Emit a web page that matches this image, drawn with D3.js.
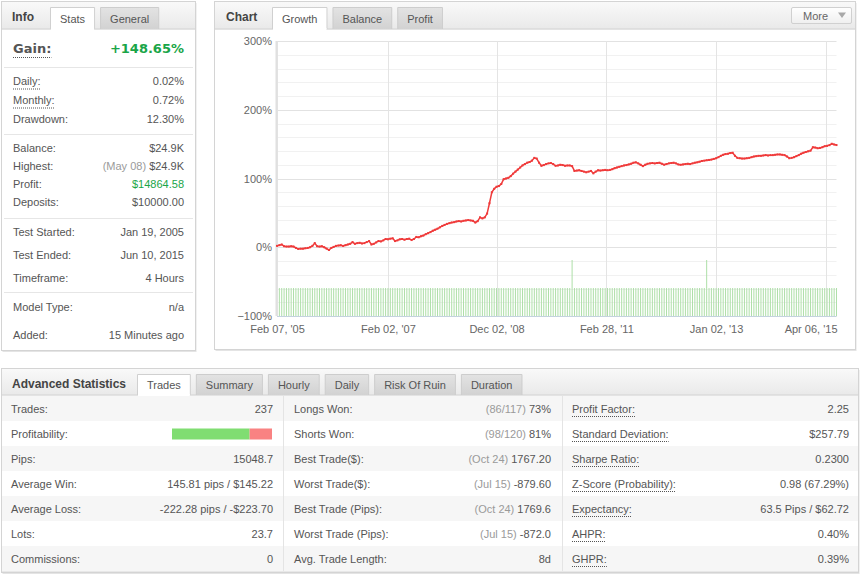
<!DOCTYPE html>
<html>
<head>
<meta charset="utf-8">
<script src="https://cdn.jsdelivr.net/npm/d3@7"></script>
<style>
  body { margin: 0; background: #fff; }
  svg { display: block; }
  svg text { font-family: "Liberation Sans", Arial, sans-serif; font-size: 11px; fill: #555; }
</style>
</head>
<body>
<div id="page"></div>
<script>
// ---- data ----

// growth in % after each trade (index 0 = start, 237 = last trade)
const growthValues = [
  2, 3, 4, 1.5, 1, 1, 1.5, 1, -1, -2.5,
  -2, -2, -1.5, -1, 0, 2, 6, 1.5, 1, 1.5,
  0, -2, -4, -1, 0.5, 2, 2.5, 3, 2, 3,
  4, 5, 7.5, 5, 6, 6.5, 5.5, 6, 7.5, 9,
  4, 5, 7, 9, 8.5, 10, 12, 11.5, 12.5, 13,
  9, 10, 11.5, 12, 11, 12, 12.5, 10.5, 12, 15,
  14.5, 16, 17, 19, 20.5, 22, 24, 25.5, 27, 29,
  31, 32.5, 34, 35, 36, 36.5, 37.5, 38, 37.5, 38.5,
  39, 39.5, 39, 38.5, 36, 38, 43.5, 42, 43.5, 49,
  64, 80, 85, 88, 89, 92, 99, 100, 101, 103.5,
  107, 110, 113, 116, 119, 121, 123, 124, 126, 130,
  129, 123, 118.5, 119.5, 121, 122, 122.5, 121, 118.5, 119,
  120, 119.5, 118.5, 119, 119, 118, 111, 111.5, 112, 111,
  110, 109, 110, 111, 107.5, 110, 112, 111.5, 112, 112.5,
  112, 112.5, 113.5, 115, 116, 117, 118, 119, 119.5, 120.5,
  121.5, 123, 123.5, 122, 120, 118, 120, 121.5, 122, 122.5,
  122, 122.5, 123, 121.5, 120, 121, 122, 122.5, 123, 122,
  120.5, 120, 120.5, 121, 121.5, 121, 122, 123, 123.5, 124.5,
  125.5, 126, 126.5, 127, 127.5, 128.5, 129.5, 131, 133, 134.5,
  135.5, 136, 137, 137.5, 133, 130, 129.5, 129, 129, 129.5,
  130, 131, 132, 132.5, 133, 133, 133.5, 134, 133.5, 134,
  134, 134.5, 135, 135, 134.5, 134, 132, 129.5, 130, 131,
  132.5, 134, 136, 137.5, 138.5, 139.5, 140.5, 145.5, 145, 144,
  144.5, 145.5, 147, 147.5, 148.5, 150.5, 149.5, 148.65
];

// volume bar per trade (two trades show a double bar)
const tradeVolume = [
  0.1, 0.1, 0.1, 0.1, 0.1, 0.1, 0.1, 0.1, 0.1, 0.1,
  0.1, 0.1, 0.1, 0.1, 0.1, 0.1, 0.1, 0.1, 0.1, 0.1,
  0.1, 0.1, 0.1, 0.1, 0.1, 0.1, 0.1, 0.1, 0.1, 0.1,
  0.1, 0.1, 0.1, 0.1, 0.1, 0.1, 0.1, 0.1, 0.1, 0.1,
  0.1, 0.1, 0.1, 0.1, 0.1, 0.1, 0.1, 0.1, 0.1, 0.1,
  0.1, 0.1, 0.1, 0.1, 0.1, 0.1, 0.1, 0.1, 0.1, 0.1,
  0.1, 0.1, 0.1, 0.1, 0.1, 0.1, 0.1, 0.1, 0.1, 0.1,
  0.1, 0.1, 0.1, 0.1, 0.1, 0.1, 0.1, 0.1, 0.1, 0.1,
  0.1, 0.1, 0.1, 0.1, 0.1, 0.1, 0.1, 0.1, 0.1, 0.1,
  0.1, 0.1, 0.1, 0.1, 0.1, 0.1, 0.1, 0.1, 0.1, 0.1,
  0.1, 0.1, 0.1, 0.1, 0.1, 0.1, 0.1, 0.1, 0.1, 0.1,
  0.1, 0.1, 0.1, 0.1, 0.1, 0.1, 0.1, 0.1, 0.1, 0.1,
  0.1, 0.1, 0.1, 0.1, 0.2, 0.1, 0.1, 0.1, 0.1, 0.1,
  0.1, 0.1, 0.1, 0.1, 0.1, 0.1, 0.1, 0.1, 0.1, 0.1,
  0.1, 0.1, 0.1, 0.1, 0.1, 0.1, 0.1, 0.1, 0.1, 0.1,
  0.1, 0.1, 0.1, 0.1, 0.1, 0.1, 0.1, 0.1, 0.1, 0.1,
  0.1, 0.1, 0.1, 0.1, 0.1, 0.1, 0.1, 0.1, 0.1, 0.1,
  0.1, 0.1, 0.1, 0.1, 0.1, 0.1, 0.1, 0.1, 0.1, 0.1,
  0.1, 0.2, 0.1, 0.1, 0.1, 0.1, 0.1, 0.1, 0.1, 0.1,
  0.1, 0.1, 0.1, 0.1, 0.1, 0.1, 0.1, 0.1, 0.1, 0.1,
  0.1, 0.1, 0.1, 0.1, 0.1, 0.1, 0.1, 0.1, 0.1, 0.1,
  0.1, 0.1, 0.1, 0.1, 0.1, 0.1, 0.1, 0.1, 0.1, 0.1,
  0.1, 0.1, 0.1, 0.1, 0.1, 0.1, 0.1, 0.1, 0.1, 0.1,
  0.1, 0.1, 0.1, 0.1, 0.1, 0.1, 0.1
];

const xTickIndex = [0, 47, 93, 139.5, 186, 232.5];
const xTickLabels = ["Feb 07, '05", "Feb 02, '07", "Dec 02, '08", "Feb 28, '11", "Jan 02, '13", "Apr 06, '15"];
const yTicks = [-100, 0, 100, 200, 300];

const gainLabel = "Gain:";
const gainValue = "+148.65%";

// [label, value, grey prefix]
const infoGroups = [
  [["Daily:", "0.02%"], ["Monthly:", "0.72%"], ["Drawdown:", "12.30%"]],
  [["Balance:", "$24.9K"], ["Highest:", "$24.9K", "(May 08)"], ["Profit:", "$14864.58"], ["Deposits:", "$10000.00"]],
  [["Test Started:", "Jan 19, 2005"], ["Test Ended:", "Jun 10, 2015"], ["Timeframe:", "4 Hours"]],
  [["Model Type:", "n/a"], ["Added:", "15 Minutes ago"]]
];

const infoTabs = ["Stats", "General"];
const chartTabs = ["Growth", "Balance", "Profit"];
const statTabs = ["Trades", "Summary", "Hourly", "Daily", "Risk Of Ruin", "Duration"];

const tradesColumn = [
  ["Trades:", "237"], ["Profitability:", null], ["Pips:", "15048.7"],
  ["Average Win:", "145.81 pips / $145.22"], ["Average Loss:", "-222.28 pips / -$223.70"],
  ["Lots:", "23.7"], ["Commissions:", "0"]
];
const wonColumn = [
  ["Longs Won:", "73%", "(86/117)"], ["Shorts Won:", "81%", "(98/120)"],
  ["Best Trade($):", "1767.20", "(Oct 24)"], ["Worst Trade($):", "-879.60", "(Jul 15)"],
  ["Best Trade (Pips):", "1769.6", "(Oct 24)"], ["Worst Trade (Pips):", "-872.0", "(Jul 15)"],
  ["Avg. Trade Length:", "8d"]
];
const ratioColumn = [
  ["Profit Factor:", "2.25"], ["Standard Deviation:", "$257.79"], ["Sharpe Ratio:", "0.2300"],
  ["Z-Score (Probability):", "0.98 (67.29%)"], ["Expectancy:", "63.5 Pips / $62.72"],
  ["AHPR:", "0.40%"], ["GHPR:", "0.39%"]
];
const profitability = [184, 53]; // won, lost

// ---- drawing ----
const svg = d3.select("#page").append("svg")
    .attr("width", 863)
    .attr("height", 574);

const defs = svg.append("defs");
function vGrad(id, c0, c1) {
    const g = defs.append("linearGradient").attr("id", id)
        .attr("x1", 0).attr("y1", 0).attr("x2", 0).attr("y2", 1);
    g.append("stop").attr("offset", 0).attr("stop-color", c0);
    g.append("stop").attr("offset", 1).attr("stop-color", c1);
}
vGrad("hdr", "#f9f9f9", "#e9e9e9");
vGrad("tabOff", "#e3e3e3", "#d2d2d2");
vGrad("btn", "#ffffff", "#efefef");

function panel(x, y, w, h, headH) {
    svg.append("rect").attr("x", x + 1).attr("y", y + 1.5).attr("width", w).attr("height", h)
        .attr("fill", "#e4e4e4");
    svg.append("rect").attr("x", x).attr("y", y).attr("width", w).attr("height", h)
        .attr("fill", "#fff").attr("stroke", "#d4d4d4");
    svg.append("rect").attr("x", x + 0.5).attr("y", y + 0.5).attr("width", w - 1).attr("height", headH)
        .attr("fill", "url(#hdr)");
    svg.append("line").attr("x1", x).attr("x2", x + w).attr("y1", y + headH).attr("y2", y + headH)
        .attr("stroke", "#d2d2d2");
}

function title(x, cy, txt) {
    svg.append("text").attr("x", x).attr("y", cy).attr("dy", "0.35em")
        .style("font-size", "12px").style("font-weight", "bold").style("fill", "#444")
        .text(txt);
}

function tabs(x0, top, bottom, names, active) {
    let x = x0;
    names.forEach((n, i) => {
        const g = svg.append("g");
        const shape = g.append("path");
        const t = g.append("text").attr("y", (top + bottom) / 2 + 1).attr("dy", "0.35em")
            .attr("text-anchor", "middle").style("fill", "#555").text(n);
        const w = t.node().getComputedTextLength() + 20;
        t.attr("x", x + w / 2);
        shape.attr("d", `M${x + 0.5},${bottom} V${top + 0.5} H${x + w - 0.5} V${bottom}`)
            .attr("fill", i === active ? "#fff" : "url(#tabOff)")
            .attr("stroke", i === active ? "#d0d0d0" : "#cdcdcd");
        if (i === active) {
            g.append("line").attr("x1", x + 1).attr("x2", x + w - 1)
                .attr("y1", bottom).attr("y2", bottom).attr("stroke", "#fff").attr("stroke-width", 2);
        }
        x += w + 5;
    });
}

function dotted(textSel, y) {
    const n = textSel.node();
    const x = +textSel.attr("x");
    const w = n.getComputedTextLength();
    svg.append("line").attr("x1", x).attr("x2", x + w).attr("y1", y).attr("y2", y)
        .attr("stroke", "#555").attr("stroke-dasharray", "1,1");
}

function valueText(x, cy, value, prefix, color) {
    const t = svg.append("text").attr("x", x).attr("y", cy).attr("dy", "0.35em")
        .attr("text-anchor", "end");
    if (prefix) t.append("tspan").style("fill", "#9a9a9a").text(prefix + " ");
    t.append("tspan").style("fill", color || "#555").text(value);
    return t;
}

// ---------- Info panel ----------
panel(1.5, 1.5, 194, 349, 27.5);
title(12, 17, "Info");
tabs(50, 7, 29, infoTabs, 0);

const gl = svg.append("text").attr("x", 13).attr("y", 48).attr("dy", "0.35em")
    .style("font-family", "'DejaVu Sans', sans-serif").style("font-size", "13px")
    .style("font-weight", "bold").style("fill", "#555").text(gainLabel);
dotted(gl, 57.5);
svg.append("text").attr("x", 184).attr("y", 48).attr("dy", "0.35em").attr("text-anchor", "end")
    .style("font-family", "'DejaVu Sans', sans-serif").style("font-size", "13px")
    .style("font-weight", "bold").style("fill", "#1aa548").text(gainValue);

const infoLayout = [
    { top: 81.5, step: 19, sep: 67 },
    { top: 148.5, step: 18, sep: 134 },
    { top: 232, step: 23.3, sep: 218 },
    { top: 307, step: 28, sep: 292 }
];
const dottedInfo = new Set(["Daily:", "Monthly:"]);
const greenInfo = new Set(["Profit:"]);

infoGroups.forEach((grp, gi) => {
    const L = infoLayout[gi];
    svg.append("line").attr("x1", 4).attr("x2", 193).attr("y1", L.sep + 0.5).attr("y2", L.sep + 0.5)
        .attr("stroke", "#e6e6e6");
    grp.forEach((row, ri) => {
        const cy = L.top + ri * L.step;
        const lt = svg.append("text").attr("x", 13).attr("y", cy).attr("dy", "0.35em").text(row[0]);
        if (dottedInfo.has(row[0])) dotted(lt, cy + 7.5);
        valueText(184, cy, row[1], row[2], greenInfo.has(row[0]) ? "#1aa548" : null);
    });
});

// ---------- Chart panel ----------
panel(214.5, 1.5, 641, 348, 27.5);
title(226, 17, "Chart");
tabs(272, 7, 29, chartTabs, 0);

// "More" button
svg.append("rect").attr("x", 791.5).attr("y", 7.5).attr("width", 60).attr("height", 16)
    .attr("rx", 1.5).attr("fill", "url(#btn)").attr("stroke", "#d0d0d0");
svg.append("text").attr("x", 803).attr("y", 16).attr("dy", "0.35em").style("fill", "#666").text("More");
svg.append("path").attr("d", "M838,12.5 L846,12.5 L842,18 Z").attr("fill", "#a8a8a8");

const x = d3.scaleLinear().domain([0, growthValues.length - 1]).range([277, 836.5]);
const y = d3.scaleLinear().domain([-100, 300]).range([316, 41]);
const vol = d3.scaleLinear().domain([0, 0.1]).range([316, 288]);

const plot = svg.append("g");

// minor horizontal grid every 20%
plot.selectAll(".minor")
    .data(y.ticks(20).filter(d => !yTicks.includes(d)))
    .enter()
    .append("line")
    .attr("x1", x(0)).attr("x2", x.range()[1])
    .attr("y1", d => Math.round(y(d)) + 0.5).attr("y2", d => Math.round(y(d)) + 0.5)
    .attr("stroke", "#f1f1f1");

plot.selectAll(".major")
    .data(yTicks)
    .enter()
    .append("line")
    .attr("x1", x(0)).attr("x2", x.range()[1])
    .attr("y1", d => Math.round(y(d)) + 0.5).attr("y2", d => Math.round(y(d)) + 0.5)
    .attr("stroke", "#e2e2e2");

plot.selectAll(".vgrid")
    .data(xTickIndex)
    .enter()
    .append("line")
    .attr("x1", d => Math.round(x(d)) + 0.5).attr("x2", d => Math.round(x(d)) + 0.5)
    .attr("y1", y(300)).attr("y2", y(-100))
    .attr("stroke", "#e4e4e4");

plot.append("line").attr("x1", 276.5).attr("x2", 276.5).attr("y1", y(300)).attr("y2", y(-100))
    .attr("stroke", "#e0e0e0").attr("stroke-width", 2);

// volume bars
plot.selectAll(".bar")
    .data(tradeVolume)
    .enter()
    .append("rect")
    .attr("x", (d, i) => x(i + 1) - 0.5)
    .attr("width", 1)
    .attr("y", d => vol(d))
    .attr("height", d => vol(0) - vol(d))
    .attr("fill", "#aedfa8");

// x axis base line
plot.append("line").attr("x1", x(0)).attr("x2", x.range()[1])
    .attr("y1", y(-100) + 0.5).attr("y2", y(-100) + 0.5).attr("stroke", "#c4d2df");

// growth line
const line = d3.line().x((d, i) => x(i)).y(d => y(d));
plot.append("path")
    .datum(growthValues)
    .attr("d", line)
    .attr("fill", "none")
    .attr("stroke", "#f03c3c")
    .attr("stroke-width", 1.5);

plot.selectAll(".pt")
    .data(growthValues)
    .enter()
    .append("rect")
    .attr("x", (d, i) => x(i) - 1)
    .attr("y", d => y(d) - 1)
    .attr("width", 2).attr("height", 2)
    .attr("fill", "#ef3a3a");

// axes
const yAxis = svg.append("g").attr("transform", "translate(277,0)")
    .call(d3.axisLeft(y).tickValues(yTicks).tickSize(0).tickPadding(5)
        .tickFormat(d => d3.format("d")(d) + "%"));
yAxis.select(".domain").remove();
yAxis.selectAll("text").style("font-size", "11px").style("fill", "#666")
    .style("font-family", "'Liberation Sans', Arial, sans-serif");

const xAxis = svg.append("g").attr("transform", "translate(0,316)")
    .call(d3.axisBottom(x).tickValues(xTickIndex).tickSize(0).tickPadding(9)
        .tickFormat((d, i) => xTickLabels[i]));
xAxis.select(".domain").remove();
xAxis.selectAll("text").style("font-size", "11px").style("fill", "#666")
    .style("font-family", "'Liberation Sans', Arial, sans-serif");
// keep the last label inside the plot, as the original does
xAxis.selectAll(".tick").filter((d, i) => i === xTickIndex.length - 1).select("text")
    .attr("text-anchor", "end")
    .attr("x", x.range()[1] - x(xTickIndex[xTickIndex.length - 1]) + 0.5);

// ---------- Advanced statistics ----------
panel(1.5, 368.5, 857, 204, 26.5);
title(12, 384, "Advanced Statistics");
tabs(137, 374, 395, statTabs, 0);

const rowTop = 396;
const rowH = 25;
const nRows = tradesColumn.length;

d3.range(nRows).forEach(i => {
    svg.append("rect").attr("x", 2).attr("y", rowTop + i * rowH).attr("width", 856).attr("height", rowH)
        .attr("fill", i % 2 === 0 ? "#f6f6f6" : "#fff");
    svg.append("line").attr("x1", 2).attr("x2", 858)
        .attr("y1", rowTop + (i + 1) * rowH + 0.5).attr("y2", rowTop + (i + 1) * rowH + 0.5)
        .attr("stroke", "#e8e8e8");
});
[283.5, 562.5].forEach(cx => {
    svg.append("line").attr("x1", cx).attr("x2", cx).attr("y1", rowTop).attr("y2", rowTop + nRows * rowH)
        .attr("stroke", "#e4e4e4");
});

const columns = [
    { rows: tradesColumn, lx: 11, vx: 273, dotted: false },
    { rows: wonColumn, lx: 294, vx: 551, dotted: false },
    { rows: ratioColumn, lx: 572, vx: 849, dotted: true }
];

columns.forEach(col => {
    col.rows.forEach((row, i) => {
        const cy = rowTop + i * rowH + 13;
        const lt = svg.append("text").attr("x", col.lx).attr("y", cy).attr("dy", "0.35em").text(row[0]);
        if (col.dotted) dotted(lt, cy + 7.5);
        if (row[1] !== null) valueText(col.vx, cy, row[1], row[2]);
    });
});

// profitability bar
const prof = d3.scaleLinear().domain([0, d3.sum(profitability)]).range([172, 272]);
svg.append("rect").attr("x", prof(0)).attr("y", rowTop + rowH + 7.5)
    .attr("width", prof(profitability[0]) - prof(0)).attr("height", 11).attr("fill", "#80dd72");
svg.append("rect").attr("x", prof(profitability[0])).attr("y", rowTop + rowH + 7.5)
    .attr("width", prof(d3.sum(profitability)) - prof(profitability[0])).attr("height", 11)
    .attr("fill", "#f98282");
</script>
</body>
</html>
